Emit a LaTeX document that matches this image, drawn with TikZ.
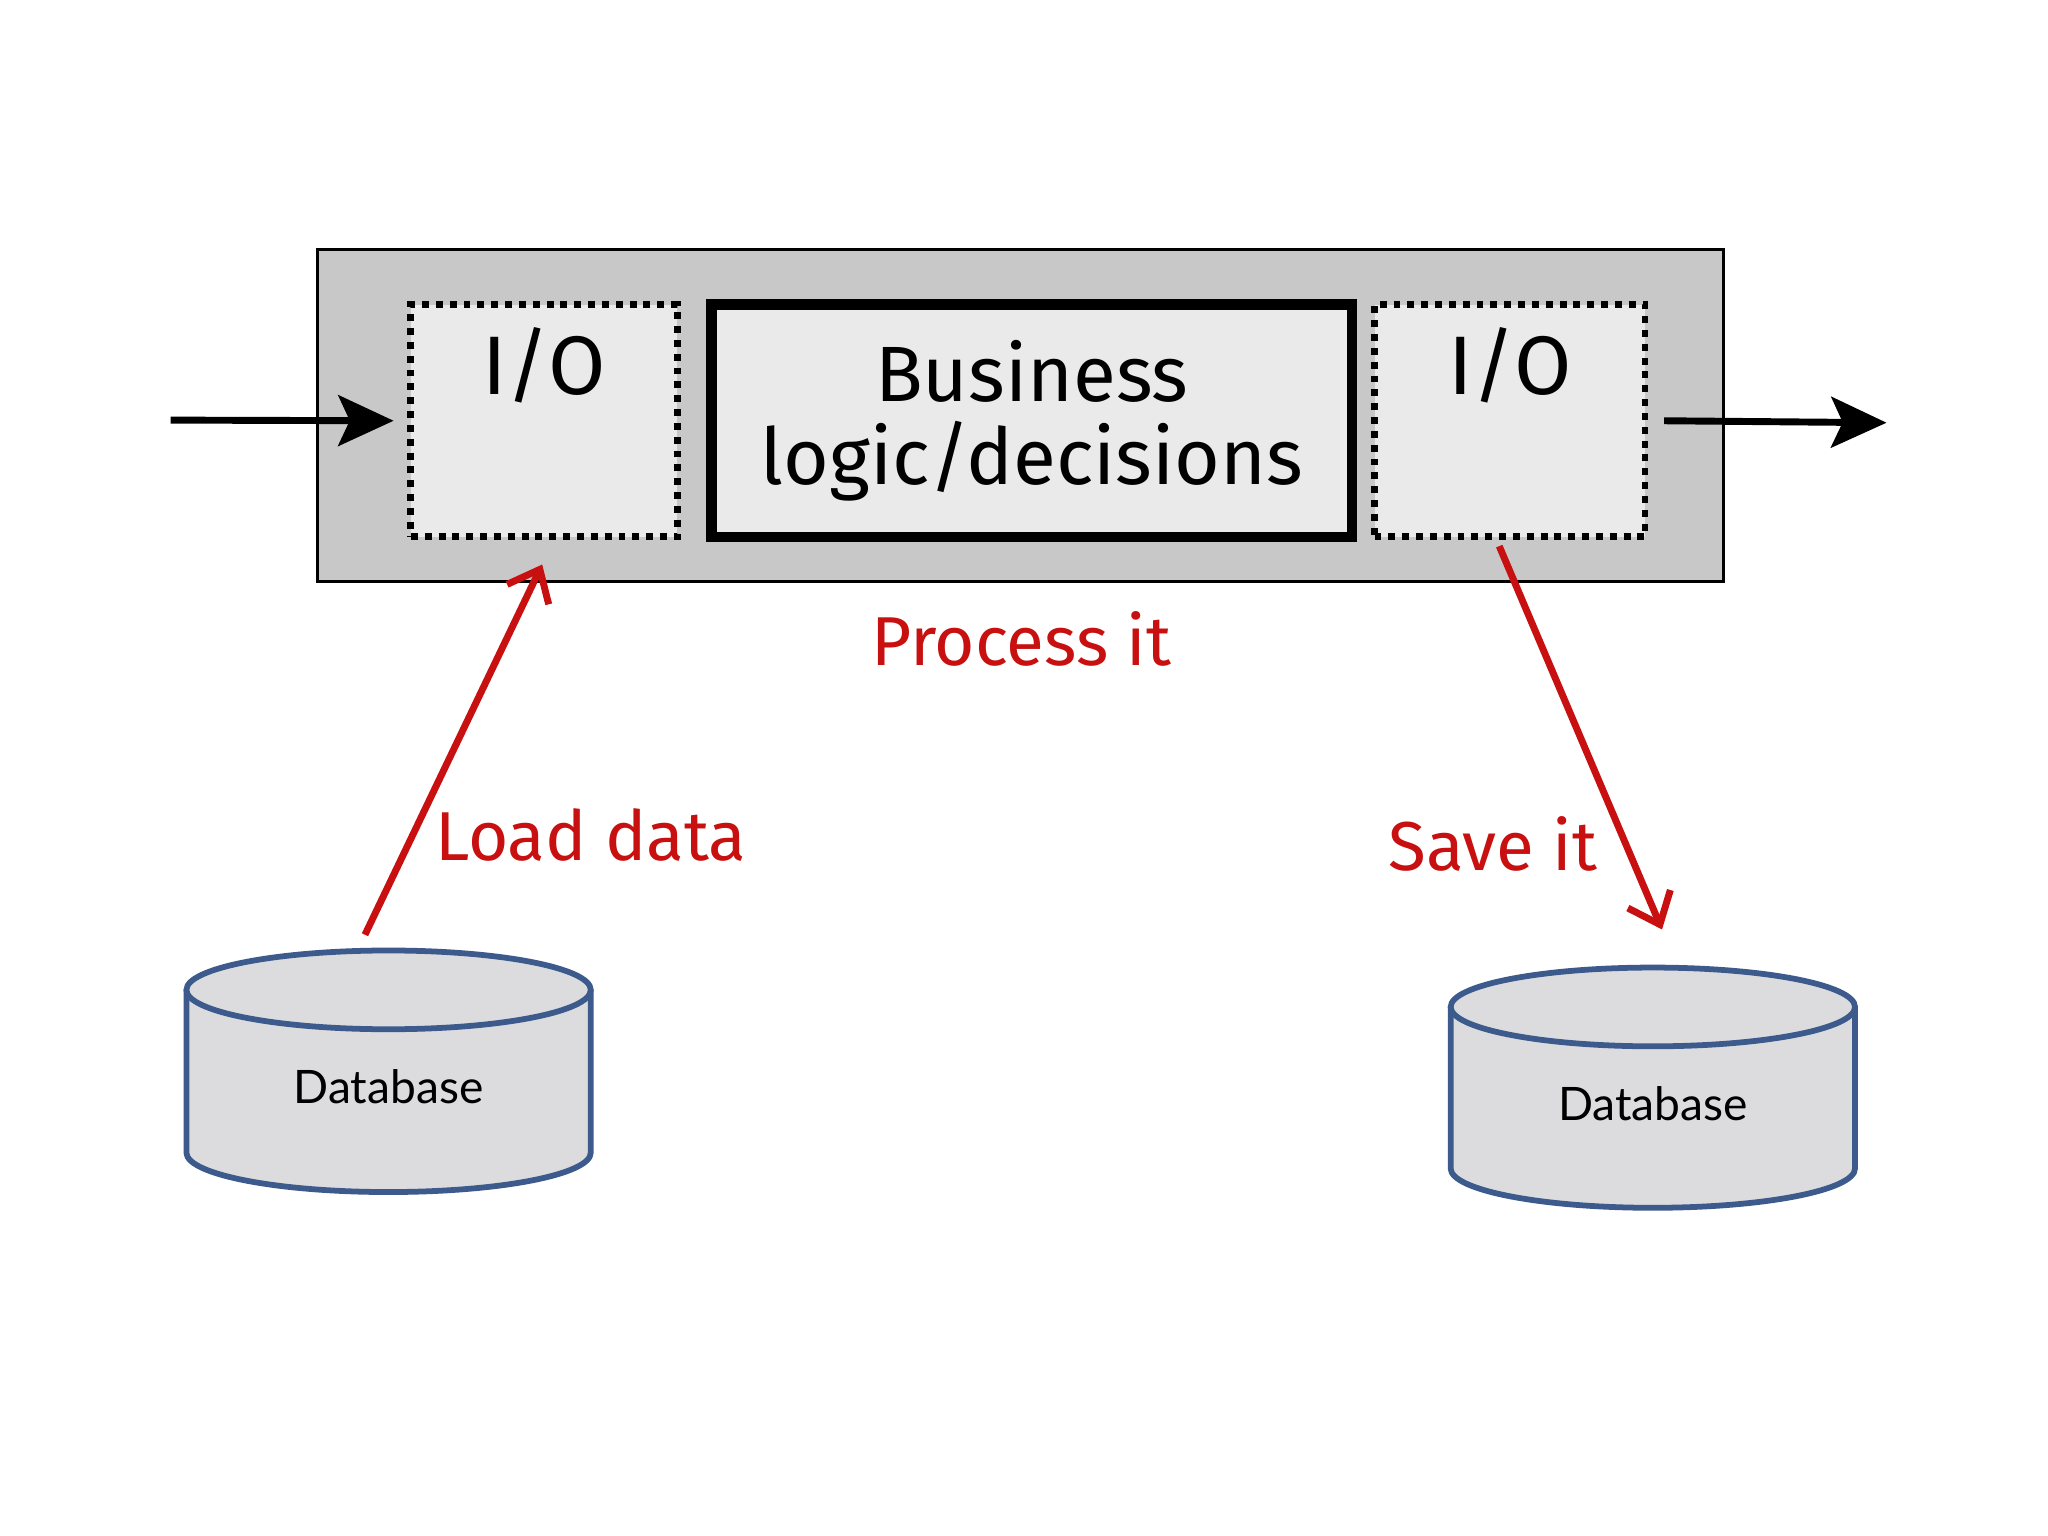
\documentclass[tikz,border=0pt]{standalone}
\usepackage{fontspec}
\setmainfont{Lato}
\newfontfamily\hand{Fira Sans}
\usetikzlibrary{arrows.meta,shapes.geometric}
\definecolor{outer}{RGB}{200,200,200}
\definecolor{inner}{RGB}{234,234,234}
\definecolor{dbfill}{RGB}{220,220,222}
\definecolor{dbline}{RGB}{60,90,140}
\definecolor{redc}{RGB}{200,16,16}
\tikzset{
  io/.style={draw,line width=3pt,dash pattern=on 3pt off 3pt,fill=inner},
  hand/.style={font=\hand\fontsize{30}{34}\selectfont},
  redarr/.style={draw=redc,line width=3pt,-{Straight Barb[length=12pt,width=20pt,line width=3pt]}},
  blk/.style={line width=3pt,-{Stealth[length=24pt,width=22pt,inset=5pt]}},
}
\begin{document}
\begin{tikzpicture}[x=0.02cm,y=-0.02cm]
\useasboundingbox (0,0) rectangle (1560,1170);
\fill[white] (0,0) rectangle (1560,1170);
\node[draw,line width=1.5pt,fill=outer,minimum width=1071*0.02cm,minimum height=253*0.02cm,inner sep=0] (outerbox) at (777.5,316.5) {};
\node[io,minimum width=203*0.02cm,minimum height=177*0.02cm,inner sep=0] (io1) at (414.5,320.5) {};
\node[hand,font=\hand\fontsize{36}{40}\selectfont,anchor=north,yshift=-8pt] at (io1.north) {I/O};
\node[draw,line width=4.5pt,fill=inner,minimum width=488*0.02cm,minimum height=177*0.02cm,inner sep=0] (bl) at (786,320.5) {};
\node[hand,align=center,font=\hand\fontsize{34}{36}\selectfont] at (bl) {Business\\logic/decisions};
\node[io,minimum width=206*0.02cm,minimum height=177*0.02cm,inner sep=0] (io2) at (1150,320.5) {};
\node[hand,font=\hand\fontsize{36}{40}\selectfont,anchor=north,yshift=-8pt] at (io2.north) {I/O};
\coordinate (in) at (130,320);
\coordinate (out) at (1437,322);
\draw[blk] (in) -- ([xshift=-6pt]io1.west);
\draw[blk] (io2.east) ++(12,0) -- (out);
% databases
\foreach \n/\x/\yt/\yb in {db1/296/754/878, db2/1259/767/890}{
  \fill[dbfill] (\x-154,\yt) -- (\x-154,\yb) arc[start angle=180,end angle=0,x radius=154,y radius=30] -- (\x+154,\yt) -- cycle;
  \draw[dbline,line width=2.5pt] (\x-154,\yt) -- (\x-154,\yb) arc[start angle=180,end angle=0,x radius=154,y radius=30] -- (\x+154,\yt);
  \draw[dbline,line width=2.5pt,fill=dbfill] (\x,\yt) ellipse[x radius=154,y radius=30];
  \node[font=\fontsize{20}{24}\selectfont] (\n) at (\x,{(\yt+\yb)/2+12}) {Database};
}
\coordinate (ld) at (278,712);
\coordinate (lt) at (413,430);
\coordinate (rs) at (1142,416);
\coordinate (re) at (1266,708);
\draw[redarr] (ld) -- (lt);
\draw[redarr] (rs) -- (re);
\node[hand,text=redc] (pi) at (778,487) {Process it};
\node[hand,text=redc] (ldl) at (450,636) {Load data};
\node[hand,text=redc] (sv) at (1137,643) {Save it};
\end{tikzpicture}
\end{document}
